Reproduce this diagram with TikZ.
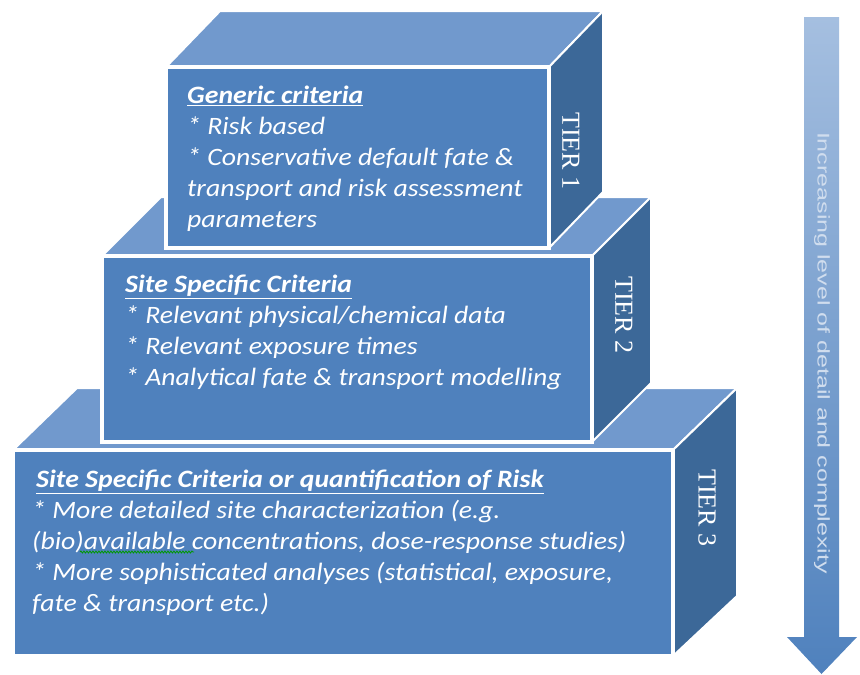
\documentclass[tikz,border=0pt]{standalone}
\usepackage{fontspec}
\setmainfont{Carlito}[FakeStretch=1.11]
\newfontfamily\tierfont{Liberation Serif}
\newfontfamily\arrowfont{Liberation Sans}
\usetikzlibrary{shadows,decorations.pathmorphing}

\definecolor{frontblue}{HTML}{4F81BD}
\definecolor{topblue}{HTML}{7199CD}
\definecolor{sideblue}{HTML}{3C6898}
\definecolor{arrowtop}{HTML}{A5BFE0}
\definecolor{arrowtext}{HTML}{D0DDEE}

\tikzset{
  frontface/.style={fill=frontblue, draw=white, line width=4pt,
    drop shadow={shadow xshift=1.5pt, shadow yshift=-2pt, opacity=0.3}},
  topface/.style={fill=topblue, draw=white, line width=2pt, line join=round},
  sideface/.style={fill=sideblue, draw=white, line width=2pt, line join=round},
  boxtext/.style={anchor=north west, inner sep=0pt, align=left, text=white,
    font=\itshape\fontsize{25}{31}\selectfont},
  tierlabel/.style={rotate=-90, inner sep=0pt, text=white,
    font=\tierfont\fontsize{26}{30}\selectfont},
}

\begin{document}
\begin{tikzpicture}[x=1pt, y=-1pt]
\useasboundingbox (0,0) rectangle (860,675);

\fill[topface] (13,450) -- (77,388) -- (737,388) -- (673,450) -- cycle;
\fill[sideface] (673,450) -- (737,388) -- (737,596) -- (673,656) -- cycle;
\filldraw[frontface] (13,450) rectangle (673,656);

\fill[topface] (102,256) -- (161,197) -- (651,197) -- (592,256) -- cycle;
\fill[sideface] (592,256) -- (651,197) -- (651,383) -- (592,442) -- cycle;
\filldraw[frontface] (102,256) rectangle (592,442);

\fill[topface] (166,67) -- (220,11) -- (603,11) -- (549,67) -- cycle;
\fill[sideface] (549,67) -- (603,11) -- (603,192) -- (549,248) -- cycle;
\filldraw[frontface] (166,67) rectangle (549,248);

\node[boxtext] (generic) at (187,86) {\underline{\textbf{Generic criteria}}\\
  * Risk based\\ * Conservative default fate \&\\ transport and risk assessment\\ parameters};
\node[boxtext] (sitespec) at (125,275) {\underline{\textbf{Site Specific Criteria}}\\
  * Relevant physical/chemical data\\ * Relevant exposure times\\ * Analytical fate \& transport modelling};
\node[boxtext] (quantif) at (32,470) {\hspace*{4pt}\underline{\textbf{Site Specific Criteria or quantification of Risk}}\\
  * More detailed site characterization (e.g.\\ (bio)available concentrations, dose-response studies)\\
  * More sophisticated analyses (statistical, exposure,\\ fate \& transport etc.)};
\draw[green!60!black, line width=0.8pt, decorate, decoration={snake, amplitude=1pt, segment length=3pt}]
  (80,552) -- (194,552);

\node[tierlabel] (tierone) at (571,151) {TIER 1};
\node[tierlabel] (tiertwo) at (624,315) {TIER 2};
\node[tierlabel] (tierthree) at (707,508) {TIER 3};

\shade[top color=arrowtop, bottom color=frontblue] (804,17) -- (839,17) -- (839,637) -- (857,637)
  -- (821.5,674) -- (787,637) -- (804,637) -- cycle;
\node[rotate=-90, inner sep=0pt, text=arrowtext, font=\arrowfont\fontsize{25}{30}\selectfont]
  (arrowlabel) at (822,353) {\scalebox{1}[0.68]{Increasing level of detail and complexity}};
\end{tikzpicture}
\end{document}
